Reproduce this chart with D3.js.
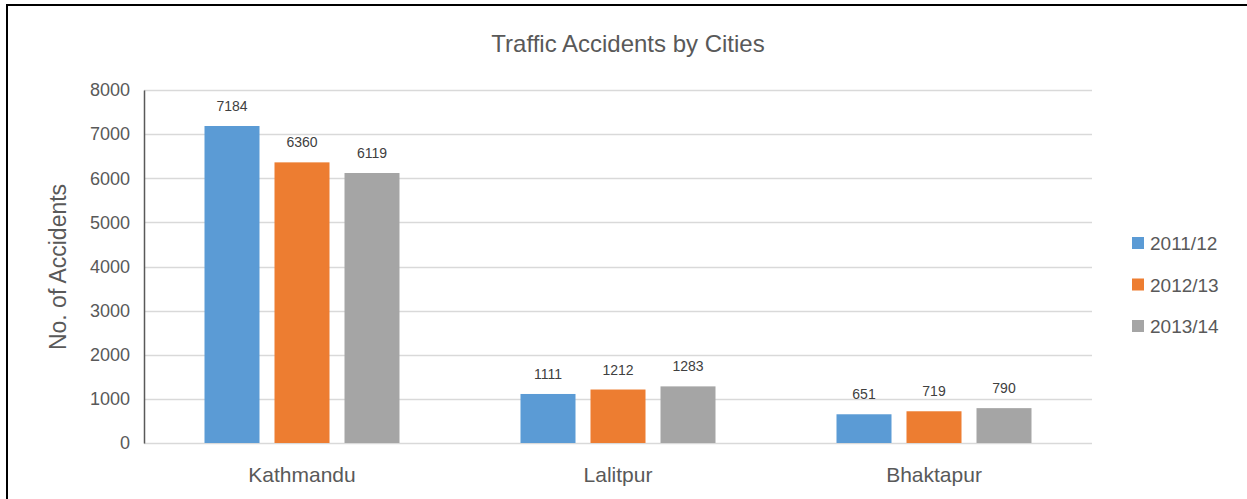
<!DOCTYPE html>
<html lang="en">
<head>
<meta charset="UTF-8">
<script src="https://d3js.org/d3.v7.min.js"></script>
<title>Traffic Accidents by Cities</title>
<style>
  body { margin: 0; background: #fff; }
  text { font-family: "Liberation Sans", Arial, sans-serif; fill: #595959; }
</style>
</head>
<body>
<svg id="chart" width="1247" height="499"></svg>
<script>
// data
var cities = ["Kathmandu", "Lalitpur", "Bhaktapur"];
var years = ["2011/12", "2012/13", "2013/14"];
var v2011 = [7184, 1111, 651];
var v2012 = [6360, 1212, 719];
var v2013 = [6119, 1283, 790];
var yTicks = [0, 1000, 2000, 3000, 4000, 5000, 6000, 7000, 8000];

var colors = ["#5B9BD5", "#ED7D31", "#A5A5A5"];
var series = [v2011, v2012, v2013];

var svg = d3.select("#chart");

// frame
svg.append("rect")
    .attr("x", 7).attr("y", 5)
    .attr("width", 1260).attr("height", 520)
    .attr("fill", "none")
    .attr("stroke", "#000")
    .attr("stroke-width", 2);

var plotL = 144, plotR = 1092, plotT = 90, plotB = 443;

var y = d3.scaleLinear().domain([0, 8000]).range([plotB, plotT]);
var x0 = d3.scaleBand().domain(cities).range([plotL, plotR]);
var groupW = x0.bandwidth() * 195 / 316;
var x1 = d3.scaleBand().domain(years)
    .range([0, groupW])
    .paddingInner(15 / 70);
var groupOffset = (x0.bandwidth() - groupW) / 2;

// gridlines
svg.append("g").selectAll("line")
    .data(yTicks)
    .enter().append("line")
    .attr("x1", plotL).attr("x2", plotR)
    .attr("y1", function(d){ return Math.round(y(d)) + 0.5; })
    .attr("y2", function(d){ return Math.round(y(d)) + 0.5; })
    .attr("stroke", "#D9D9D9")
    .attr("stroke-width", 1.5);

// y axis
var yAxis = d3.axisLeft(y).tickValues(yTicks).tickFormat(d3.format("d"))
    .tickSize(0).tickPadding(14);
var gy = svg.append("g")
    .attr("transform", "translate(" + plotL + ",0)")
    .call(yAxis);
gy.select(".domain").attr("stroke", "#595959").attr("stroke-width", 1.5);
gy.selectAll("text").style("font-size", "18px").style("fill", "#595959")
    .style("font-family", "'Liberation Sans', Arial, sans-serif");

// bars
var groups = svg.selectAll(".city")
    .data(cities)
    .enter().append("g")
    .attr("class", "city")
    .attr("transform", function(d){ return "translate(" + (x0(d) + groupOffset) + ",0)"; });

groups.selectAll("rect")
    .data(function(d, i){ return years.map(function(yr, j){ return {year: yr, value: series[j][i], j: j}; }); })
    .enter().append("rect")
    .attr("x", function(d){ return x1(d.year); })
    .attr("y", function(d){ return y(d.value); })
    .attr("width", x1.bandwidth())
    .attr("height", function(d){ return y(0) - y(d.value); })
    .attr("fill", function(d){ return colors[d.j]; });

groups.selectAll(".lbl")
    .data(function(d, i){ return years.map(function(yr, j){ return {year: yr, value: series[j][i]}; }); })
    .enter().append("text")
    .attr("class", "lbl")
    .attr("x", function(d){ return x1(d.year) + x1.bandwidth() / 2; })
    .attr("y", function(d){ return y(d.value) - 15; })
    .attr("text-anchor", "middle")
    .style("font-size", "14px")
    .style("fill", "#404040")
    .text(function(d){ return d.value; });

// x axis labels
var xAxis = d3.axisBottom(x0).tickSize(0).tickPadding(24);
var gx = svg.append("g")
    .attr("transform", "translate(0," + plotB + ")")
    .call(xAxis);
gx.select(".domain").remove();
gx.selectAll("text").style("font-size", "21px").style("fill", "#595959")
    .style("font-family", "'Liberation Sans', Arial, sans-serif");

// title
svg.append("text")
    .attr("x", 628).attr("y", 52)
    .attr("text-anchor", "middle")
    .style("font-size", "24px")
    .text("Traffic Accidents by Cities");

// y label
svg.append("text")
    .attr("transform", "translate(66,267) rotate(-90)")
    .attr("text-anchor", "middle")
    .style("font-size", "23px")
    .text("No. of Accidents");

// legend
var legend = svg.selectAll(".legend")
    .data(years)
    .enter().append("g")
    .attr("class", "legend")
    .attr("transform", function(d, i){ return "translate(1132," + (237 + i * 41.5) + ")"; });
legend.append("rect")
    .attr("width", 12).attr("height", 12)
    .attr("fill", function(d, i){ return colors[i]; });
legend.append("text")
    .attr("x", 18).attr("y", 13)
    .style("font-size", "19px")
    .text(function(d){ return d; });
</script>
</body>
</html>
